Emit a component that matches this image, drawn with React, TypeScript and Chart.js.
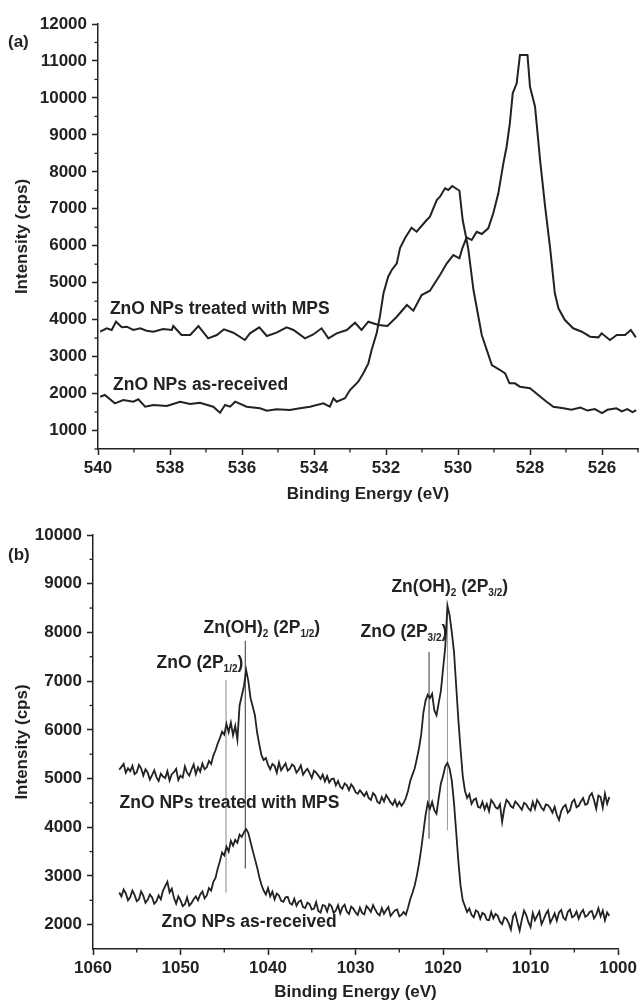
import React, { useEffect, useRef } from 'react';
import { Chart, registerables } from 'chart.js';

Chart.register(...registerables);

const FONT = '"Liberation Sans", Arial, Helvetica, sans-serif';
const INK = '#222222';

// ---------- Panel (a): O 1s ----------
const energyA_received = [539.94,539.81,539.53,539.30,539.02,538.88,538.69,538.46,538.09,537.72,537.44,537.17,536.80,536.61,536.47,536.33,536.19,535.87,535.50,535.31,535.04,534.67,534.39,534.11,533.74,533.56,533.46,533.37,533.14,533.00,532.77,532.63,532.49,532.40,532.26,532.17,532.07,531.94,531.84,531.70,531.61,531.47,531.29,531.15,530.87,530.78,530.59,530.50,530.36,530.27,530.16,529.96,529.87,529.76,529.71,529.57,529.34,529.06,528.83,528.69,528.57,528.42,528.28,528.00,527.77,527.54,527.35,527.07,526.85,526.60,526.40,526.20,526.00,525.85,525.60,525.45,525.30,525.15,525.05];
const intensityA_received = [1915,1961,1736,1826,1780,1845,1644,1690,1663,1780,1718,1753,1644,1482,1690,1644,1780,1644,1601,1536,1574,1555,1601,1644,1737,1644,1872,1780,1872,2096,2321,2548,2818,3179,3630,4080,4713,5162,5343,5524,5938,6209,6487,6379,6696,6785,7237,7326,7554,7508,7616,7489,6696,6155,5884,4802,3584,2773,2637,2548,2277,2277,2186,2142,1961,1780,1644,1601,1560,1620,1540,1580,1470,1560,1600,1520,1580,1500,1555];

const energyA_mps = [539.94,539.76,539.62,539.50,539.34,539.20,539.02,538.83,538.65,538.46,538.19,537.95,537.91,537.68,537.44,537.21,536.94,536.70,536.50,536.24,535.92,535.78,535.52,535.31,535.04,534.76,534.57,534.25,534.02,533.79,533.60,533.37,533.09,532.86,532.68,532.49,532.21,531.96,531.70,531.42,531.24,531.01,530.78,530.50,530.31,530.13,529.96,529.88,529.76,529.62,529.48,529.34,529.16,529.02,528.88,528.74,528.65,528.56,528.48,528.37,528.28,528.07,528.00,527.86,527.72,527.58,527.44,527.31,527.21,527.03,526.80,526.56,526.33,526.10,526.01,525.78,525.59,525.36,525.20,525.06];
const intensityA_mps = [3674,3766,3720,3944,3793,3809,3720,3766,3701,3674,3747,3720,3828,3584,3584,3828,3495,3584,3739,3647,3449,3630,3793,3557,3647,3793,3720,3495,3600,3766,3495,3630,3720,3917,3720,3944,3855,3828,4080,4396,4242,4667,4783,5208,5524,5749,5659,5930,6228,6155,6379,6317,6471,6877,7418,8230,8679,9312,10124,10395,11160,11160,10302,9761,8319,7056,5930,4713,4306,3990,3766,3674,3539,3521,3630,3449,3584,3584,3720,3521];

const xMajorA = [540, 538, 536, 534, 532, 530, 528, 526];
const xMinorA = [539, 537, 535, 533, 531, 529, 527, 525];
const yMajorA = [1000, 2000, 3000, 4000, 5000, 6000, 7000, 8000, 9000, 10000, 11000, 12000];
const yMinorA = [500, 1500, 2500, 3500, 4500, 5500, 6500, 7500, 8500, 9500, 10500, 11500];

// ---------- Panel (b): Zn 2p ----------
const energyB = [
  1057,1056.75,1056.5,1056.25,1056,1055.75,1055.5,1055.25,1055,1054.75,
  1054.5,1054.25,1054,1053.75,1053.5,1053.25,1053,1052.75,1052.5,1052.25,
  1052,1051.75,1051.5,1051.25,1051,1050.75,1050.5,1050.25,1050,1049.75,
  1049.5,1049.25,1049,1048.75,1048.5,1048.25,1048,1047.75,1047.5,1047.25,
  1047,1046.75,1046.5,1046.25,1046,1045.75,1045.5,1045.25,1045,1044.75,
  1044.5,1044.25,1044,1043.75,1043.5,1043.25,1043,1042.75,1042.5,1042.25,
  1042,1041.75,1041.5,1041.25,1041,1040.75,1040.5,1040.25,1040,1039.75,
  1039.5,1039.25,1039,1038.75,1038.5,1038.25,1038,1037.75,1037.5,1037.25,
  1037,1036.75,1036.5,1036.25,1036,1035.75,1035.5,1035.25,1035,1034.75,
  1034.5,1034.25,1034,1033.75,1033.5,1033.25,1033,1032.75,1032.5,1032.25,
  1032,1031.75,1031.5,1031.25,1031,1030.75,1030.5,1030.25,1030,1029.75,
  1029.5,1029.25,1029,1028.75,1028.5,1028.25,1028,1027.75,1027.5,1027.25,
  1027,1026.75,1026.5,1026.25,1026,1025.75,1025.5,1025.25,1025,1024.75,
  1024.5,1024.25,1024,1023.75,1023.5,1023.25,1023,1022.75,1022.5,1022.25,
  1022,1021.75,1021.5,1021.25,1021,1020.75,1020.5,1020.25,1020,1019.75,
  1019.5,1019.25,1019,1018.75,1018.5,1018.25,1018,1017.75,1017.5,1017.25,
  1017,1016.75,1016.5,1016.25,1016,1015.75,1015.5,1015.25,1015,1014.75,
  1014.5,1014.25,1014,1013.75,1013.5,1013.25,1013,1012.75,1012.5,1012.25,
  1012,1011.75,1011.5,1011.25,1011,1010.75,1010.5,1010.25,1010,1009.75,
  1009.5,1009.25,1009,1008.75,1008.5,1008.25,1008,1007.75,1007.5,1007.25,
  1007,1006.75,1006.5,1006.25,1006,1005.75,1005.5,1005.25,1005,1004.75,
  1004.5,1004.25,1004,1003.75,1003.5,1003.25,1003,1002.75,1002.5,1002.25,
  1002,1001.75,1001.5,1001.25,1001
];
const intensityB_mps = [
  5180,5240,5300,5120,5210,5150,5260,5090,5130,5280,
  5210,5060,5190,5120,4980,5070,5170,5030,4950,5100,
  5040,5010,5150,4960,5090,5130,5200,4970,5060,5020,
  5250,5120,5060,5180,5290,5090,5230,5140,5310,5190,
  5230,5360,5300,5470,5580,5720,5830,5960,5900,6120,
  5950,6150,5890,6080,5800,6500,6700,6900,7230,7000,
  6650,6480,6300,5950,5700,5480,5380,5420,5280,5190,
  5300,5260,5120,5330,5170,5240,5310,5160,5200,5290,
  5250,5120,5180,5270,5080,5150,5200,5110,5010,5160,
  5120,5060,4990,5080,4940,5050,4920,4990,5000,4860,
  4950,4830,4790,4900,4860,4760,4880,4820,4720,4690,
  4760,4700,4640,4720,4600,4560,4700,4650,4520,4490,
  4620,4530,4660,4590,4510,4460,4560,4430,4520,4440,
  4500,4600,4750,4950,5080,5200,5400,5620,5900,6350,
  6600,6720,6650,6740,6400,6300,6550,6800,7250,7700,
  8550,8350,8000,7600,6900,6200,5600,5050,4750,4600,
  4680,4480,4560,4590,4420,4400,4520,4370,4480,4330,
  4560,4500,4410,4380,4470,4110,4390,4560,4510,4430,
  4400,4530,4480,4420,4360,4500,4470,4390,4340,4520,
  4380,4560,4490,4400,4350,4470,4450,4390,4300,4420,
  4250,4150,4330,4420,4460,4300,4350,4520,4570,4410,
  4440,4530,4600,4460,4480,4640,4700,4560,4380,4650,
  4620,4400,4690,4480,4620
];
const intensityB_received = [
  2660,2580,2720,2640,2500,2560,2700,2610,2480,2520,
  2680,2590,2450,2510,2620,2560,2430,2480,2600,2520,
  2700,2790,2880,2660,2740,2550,2430,2580,2500,2380,
  2420,2560,2390,2440,2520,2580,2500,2620,2680,2540,
  2600,2750,2700,2880,2960,3150,3300,3480,3420,3600,
  3500,3720,3620,3740,3680,3850,3800,3900,3960,3880,
  3700,3520,3350,3180,2980,2820,2700,2620,2750,2580,
  2680,2520,2640,2600,2490,2470,2560,2570,2440,2410,
  2530,2390,2470,2500,2360,2340,2450,2420,2310,2330,
  2460,2280,2250,2400,2390,2270,2420,2380,2240,2290,
  2400,2230,2360,2410,2270,2220,2370,2330,2250,2200,
  2350,2240,2210,2380,2330,2260,2400,2310,2230,2190,
  2340,2220,2300,2360,2180,2240,2290,2310,2170,2200,
  2260,2200,2350,2520,2650,2800,3000,3250,3550,3900,
  4250,4500,4380,4520,4350,4280,4600,4900,5050,5250,
  5320,5200,4950,4500,3900,3300,2800,2500,2380,2260,
  2330,2200,2150,2290,2260,2120,2240,2210,2100,2090,
  2260,2130,2220,2180,2060,2010,2150,2120,2030,1900,
  2170,2240,2050,1880,2100,2290,2200,2050,1950,2240,
  2090,2180,2270,2010,2110,2220,2290,2040,2130,2230,
  2080,2250,2300,2140,2100,2260,2310,2150,2180,2270,
  2120,2240,2300,2160,2190,2260,2280,2130,2200,2340,
  2170,2290,2090,2250,2180
];

const xMajorB = [1060, 1050, 1040, 1030, 1020, 1010, 1000];
const xMinorB = [1055, 1045, 1035, 1025, 1015, 1005];
const yMajorB = [2000, 3000, 4000, 5000, 6000, 7000, 8000, 9000, 10000];
const yMinorB = [2500, 3500, 4500, 5500, 6500, 7500, 8500, 9500];

// peak marker lines in panel (b): energy, lower and upper intensity
const markerEnergyB = [1044.8, 1042.6, 1021.6, 1019.5];
const markerLowB = [2660, 3155, 3766, 3936];
const markerHighB = [7020, 7828, 7601, 8541];
const markerColorB = ['#8a8a8a', '#333333', '#333333', '#9a9a9a'];

type Part = { t: string; sub?: boolean };
type Note = { x: number; y: number; parts: Part[] };

const notesA: Note[] = [
  { x: 539.67, y: 4288, parts: [{ t: 'ZnO NPs treated with MPS' }] },
  { x: 539.58, y: 2232, parts: [{ t: 'ZnO NPs as-received' }] },
];
const notesB: Note[] = [
  { x: 1056.96, y: 4491, parts: [{ t: 'ZnO NPs treated with MPS' }] },
  { x: 1052.16, y: 2045, parts: [{ t: 'ZnO NPs as-received' }] },
  { x: 1052.74, y: 7369, parts: [{ t: 'ZnO (2P' }, { t: '1/2', sub: true }, { t: ')' }] },
  { x: 1047.37, y: 8088, parts: [{ t: 'Zn(OH)' }, { t: '2', sub: true }, { t: ' (2P' }, { t: '1/2', sub: true }, { t: ')' }] },
  { x: 1029.43, y: 8012, parts: [{ t: 'ZnO (2P' }, { t: '3/2', sub: true }, { t: ')' }] },
  { x: 1025.9, y: 8931, parts: [{ t: 'Zn(OH)' }, { t: '2', sub: true }, { t: ' (2P' }, { t: '3/2', sub: true }, { t: ')' }] },
];

const toPoints = (xs: number[], ys: number[]) => xs.map((x, i) => ({ x, y: ys[i] }));

function drawRich(ctx: CanvasRenderingContext2D, x: number, y: number, parts: Part[]) {
  let cx = x;
  ctx.textAlign = 'left';
  ctx.textBaseline = 'middle';
  for (const p of parts) {
    ctx.font = p.sub ? `bold 10px ${FONT}` : `bold 17.5px ${FONT}`;
    ctx.fillText(p.t, cx, p.sub ? y + 6 : y);
    cx += ctx.measureText(p.t).width;
  }
}

function decorPlugin(cfg: { xMinor: number[]; yMinor: number[]; notes: Note[]; tag: string; tagY: number }) {
  return {
    id: 'decor',
    afterDraw(chart: any) {
      const ctx: CanvasRenderingContext2D = chart.ctx;
      const xs = chart.scales.x;
      const ys = chart.scales.y;
      const area = chart.chartArea;
      ctx.save();
      ctx.strokeStyle = INK;
      ctx.lineWidth = 1.3;
      for (const v of cfg.xMinor) {
        const px = xs.getPixelForValue(v);
        ctx.beginPath();
        ctx.moveTo(px, area.bottom);
        ctx.lineTo(px, area.bottom + 3.5);
        ctx.stroke();
      }
      for (const v of cfg.yMinor) {
        const py = ys.getPixelForValue(v);
        ctx.beginPath();
        ctx.moveTo(area.left, py);
        ctx.lineTo(area.left - 3.5, py);
        ctx.stroke();
      }
      ctx.fillStyle = INK;
      for (const n of cfg.notes) {
        drawRich(ctx, xs.getPixelForValue(n.x), ys.getPixelForValue(n.y), n.parts);
      }
      ctx.font = `bold 17px ${FONT}`;
      ctx.textAlign = 'left';
      ctx.textBaseline = 'middle';
      ctx.fillText(cfg.tag, 8, cfg.tagY);
      ctx.restore();
    },
  };
}

const tickFont = { family: FONT, size: 17, weight: 'bold' as const };

function axisX(min: number, max: number, major: number[], height: number, titlePadBottom: number) {
  return {
    type: 'linear' as const,
    min,
    max,
    reverse: true,
    afterBuildTicks: (s: any) => { s.ticks = major.map((v) => ({ value: v })); },
    afterFit: (s: any) => { s.height = height; },
    grid: { drawOnChartArea: false, drawTicks: true, tickLength: 6, tickColor: INK, tickWidth: 1.5, color: INK },
    border: { display: true, color: INK, width: 1.5 },
    ticks: { color: INK, font: tickFont, padding: 3, maxRotation: 0, autoSkip: false, callback: (v: any) => String(v) },
    title: { display: true, text: 'Binding Energy (eV)', color: INK, font: tickFont, padding: { top: 0, bottom: titlePadBottom } },
  };
}

function axisY(min: number, max: number, major: number[], width: number) {
  return {
    type: 'linear' as const,
    min,
    max,
    afterBuildTicks: (s: any) => { s.ticks = major.map((v) => ({ value: v })); },
    afterFit: (s: any) => { s.width = width; },
    grid: { drawOnChartArea: false, drawTicks: true, tickLength: 6, tickColor: INK, tickWidth: 1.5, color: INK },
    border: { display: true, color: INK, width: 1.5 },
    ticks: { color: INK, font: tickFont, padding: 5, autoSkip: false, callback: (v: any) => String(v) },
    title: { display: true, text: 'Intensity (cps)', color: INK, font: tickFont, padding: { top: 12, bottom: 0 } },
  };
}

function configA(): any {
  return {
    type: 'line',
    data: {
      datasets: [
        { data: toPoints(energyA_mps, intensityA_mps), borderColor: INK, borderWidth: 2, pointRadius: 0, tension: 0 },
        { data: toPoints(energyA_received, intensityA_received), borderColor: INK, borderWidth: 2, pointRadius: 0, tension: 0 },
      ],
    },
    options: {
      animation: false,
      responsive: false,
      layout: { padding: { top: 24, right: 2, bottom: 0, left: 0 } },
      plugins: { legend: { display: false }, tooltip: { enabled: false } },
      scales: { x: axisX(525, 540, xMajorA, 56, 0), y: axisY(500, 12000, yMajorA, 98) },
    },
    plugins: [decorPlugin({ xMinor: xMinorA, yMinor: yMinorA, notes: notesA, tag: '(a)', tagY: 42 })],
  };
}

function configB(): any {
  const markers = markerEnergyB.map((e, i) => ({
    data: [{ x: e, y: markerLowB[i] }, { x: e, y: markerHighB[i] }],
    borderColor: markerColorB[i],
    borderWidth: 1,
    pointRadius: 0,
  }));
  return {
    type: 'line',
    data: {
      datasets: [
        { data: toPoints(energyB, intensityB_mps), borderColor: INK, borderWidth: 1.8, pointRadius: 0, tension: 0 },
        { data: toPoints(energyB, intensityB_received), borderColor: INK, borderWidth: 1.8, pointRadius: 0, tension: 0 },
        ...markers,
      ],
    },
    options: {
      animation: false,
      responsive: false,
      layout: { padding: { top: 30, right: 20, bottom: 0, left: 0 } },
      plugins: { legend: { display: false }, tooltip: { enabled: false } },
      scales: { x: axisX(1000, 1060, xMajorB, 52, -2), y: axisY(1500, 10000, yMajorB, 93) },
    },
    plugins: [decorPlugin({ xMinor: xMinorB, yMinor: yMinorB, notes: notesB, tag: '(b)', tagY: 50 })],
  };
}

function Panel({ makeConfig, height }: { makeConfig: () => any; height: number }) {
  const ref = useRef<HTMLCanvasElement | null>(null);
  useEffect(() => {
    if (!ref.current) return;
    const chart = new Chart(ref.current, makeConfig());
    return () => chart.destroy();
  }, [makeConfig]);
  return (
    <canvas ref={ref} width={640} height={height} style={{ display: 'block', width: 640, height }} />
  );
}

export default function App() {
  return (
    <div style={{ position: 'absolute', left: 0, top: 0, width: 640, height: 1001, overflow: 'hidden', background: '#fff' }}>
      <Panel makeConfig={configA} height={505} />
      <Panel makeConfig={configB} height={496} />
    </div>
  );
}
